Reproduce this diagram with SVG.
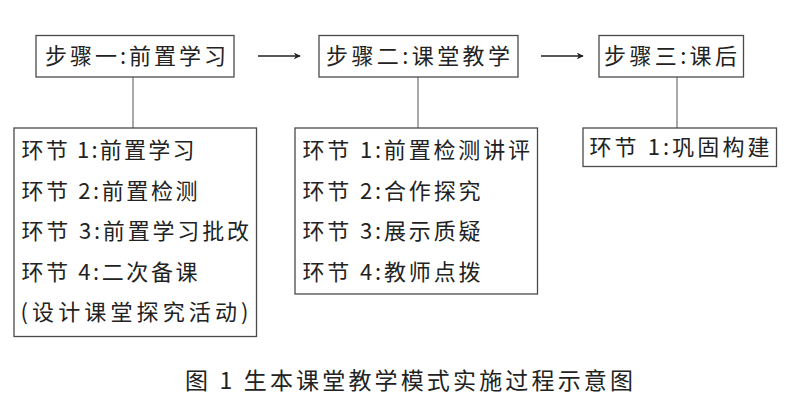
<svg xmlns="http://www.w3.org/2000/svg" width="800" height="412" viewBox="0 0 800 412">
  <style>
    .box { fill: #ffffff; stroke: #4a4a4a; stroke-width: 1.3; }
    .link { stroke: #8c8c8c; stroke-width: 1.5; fill: none; }
    .arrow { stroke: #222222; stroke-width: 1.6; fill: none; }
    text { font-family: "Noto Sans CJK SC", "Noto Sans CJK JP", sans-serif; font-size: 22px; fill: #222222; }
    .cap { font-size: 23px; }
  </style>
  <defs>
    <marker id="head" viewBox="0 0 10 10" refX="9" refY="5" markerWidth="7" markerHeight="7" markerUnits="userSpaceOnUse" orient="auto">
      <path d="M0,0 L10,5 L0,10 L3,5 Z" fill="#222222"/>
    </marker>
  </defs>
  <rect width="800" height="412" fill="#ffffff"/>

  <g id="connectors">
    <line class="link" x1="133" y1="77" x2="133" y2="128"/>
    <line class="link" x1="418" y1="77" x2="418" y2="128"/>
    <line class="link" x1="677" y1="77" x2="677" y2="128"/>
    <line class="arrow" x1="258" y1="56" x2="300" y2="56" marker-end="url(#head)"/>
    <line class="arrow" x1="541" y1="56" x2="583" y2="56" marker-end="url(#head)"/>
  </g>

  <g id="step1">
    <rect class="box" x="36" y="35.5" width="198" height="41.5"/>
    <text x="45" y="64" textLength="181" lengthAdjust="spacing">步骤一:前置学习</text>
  </g>
  <g id="step2">
    <rect class="box" x="319" y="35.5" width="199" height="41.5"/>
    <text x="326" y="64" textLength="184" lengthAdjust="spacing">步骤二:课堂教学</text>
  </g>
  <g id="step3">
    <rect class="box" x="599" y="35.5" width="144.5" height="41.5"/>
    <text x="604" y="64" textLength="133" lengthAdjust="spacing">步骤三:课后</text>
  </g>

  <g id="sub1">
    <rect class="box" x="14" y="128" width="242.5" height="208.5"/>
    <text x="21.5" y="158" textLength="173" lengthAdjust="spacing">环节 1:前置学习</text>
    <text x="21.5" y="198.5" textLength="176" lengthAdjust="spacing">环节 2:前置检测</text>
    <text x="21.5" y="239" textLength="227.5" lengthAdjust="spacing">环节 3:前置学习批改</text>
    <text x="21.5" y="279.5" textLength="176" lengthAdjust="spacing">环节 4:二次备课</text>
    <text x="20.5" y="320" textLength="228" lengthAdjust="spacing">(设计课堂探究活动)</text>
  </g>

  <g id="sub2">
    <rect class="box" x="295" y="128" width="242.5" height="166"/>
    <text x="302.5" y="158" textLength="227.5" lengthAdjust="spacing">环节 1:前置检测讲评</text>
    <text x="302.5" y="198.5" textLength="178" lengthAdjust="spacing">环节 2:合作探究</text>
    <text x="302.5" y="239" textLength="178" lengthAdjust="spacing">环节 3:展示质疑</text>
    <text x="302.5" y="279.5" textLength="178" lengthAdjust="spacing">环节 4:教师点拨</text>
  </g>

  <g id="sub3">
    <rect class="box" x="583" y="128" width="193.5" height="38.5"/>
    <text x="589.5" y="154.5" textLength="180" lengthAdjust="spacing">环节 1:巩固构建</text>
  </g>

  <g id="caption">
    <text class="cap" x="185" y="388.5" textLength="448" lengthAdjust="spacing">图 1 生本课堂教学模式实施过程示意图</text>
  </g>
</svg>
